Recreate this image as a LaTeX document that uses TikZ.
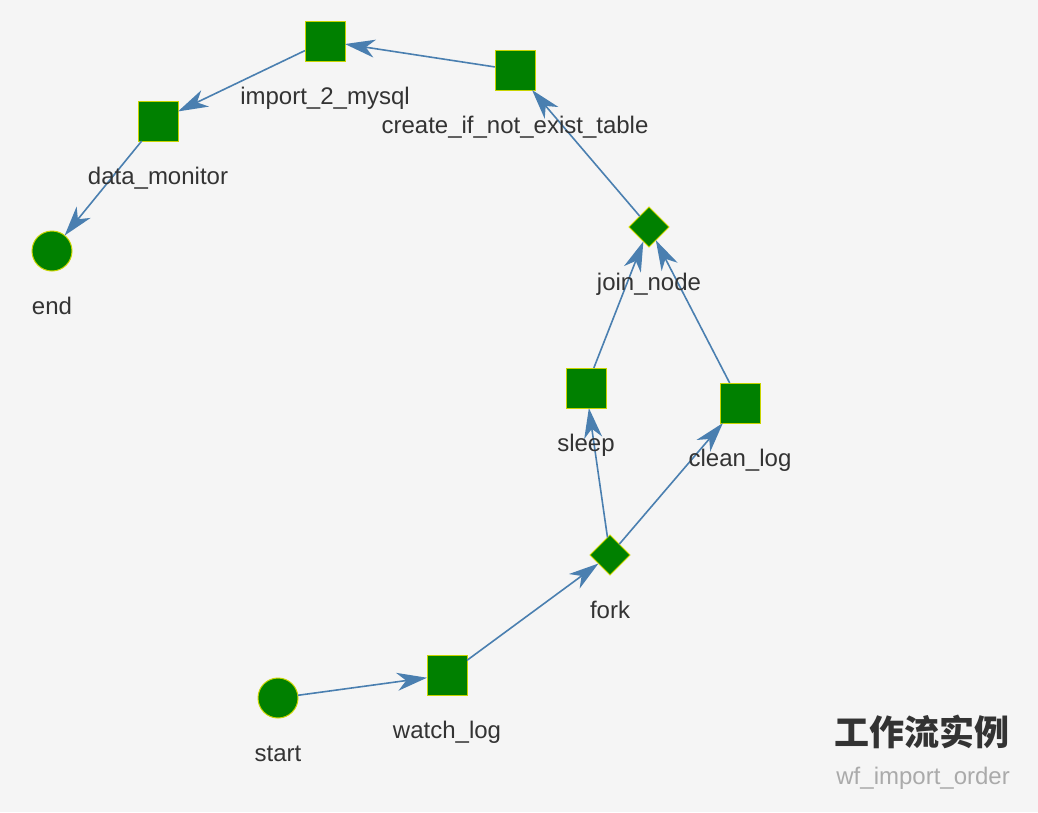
\documentclass[tikz,border=0pt]{standalone}
\usepackage{fontspec}
\setmainfont{Liberation Sans}
\newfontfamily\cjk{Noto Sans CJK SC}
\usetikzlibrary{shapes.geometric,arrows.meta}
\definecolor{bg}{HTML}{F5F5F5}
\definecolor{nodegreen}{HTML}{008000}
\definecolor{nodeborder}{HTML}{C8D400}
\definecolor{edgeblue}{HTML}{4A7FB0}
\definecolor{labeltext}{HTML}{333333}
\definecolor{subtext}{HTML}{AAAAAA}
\tikzset{
  base/.style={fill=nodegreen, draw=nodeborder, line width=1pt, inner sep=0pt, outer sep=0pt},
  sq/.style={base, rectangle, minimum width=40pt, minimum height=40pt},
  circ/.style={base, circle, minimum size=40pt},
  dia/.style={base, diamond, minimum width=40pt, minimum height=40pt},
  lbl/.style={anchor=base, inner sep=0pt, text=labeltext, font=\fontsize{24}{28}\selectfont},
  edge/.style={draw=edgeblue, line width=1.6pt, -{Stealth[length=30pt, width=18pt, inset=9pt]}},
}
\begin{document}
\begin{tikzpicture}[x=1pt, y=-1pt]
\fill[bg] (0,0) rectangle (1038,812);
\useasboundingbox (0,0) rectangle (1038,812);
% nodes
\node[circ] (start) at (278,698) {};
\node[sq] (watch) at (447,675) {};
\node[dia] (fork) at (610,555) {};
\node[sq] (sleep) at (586,388) {};
\node[sq] (clean) at (740,403) {};
\node[dia] (join) at (649,227) {};
\node[sq] (create) at (515,70) {};
\node[sq] (import) at (325,41) {};
\node[sq] (monitor) at (158,121) {};
\node[circ] (end) at (52,251) {};
% edges
\draw[edge] (start) -- (watch);
\draw[edge] (watch) -- (fork);
\draw[edge] (fork) -- (sleep);
\draw[edge] (fork) -- (clean);
\draw[edge] (sleep) -- (join);
\draw[edge] (clean) -- (join);
\draw[edge] (join) -- (create);
\draw[edge] (create) -- (import);
\draw[edge] (import) -- (monitor);
\draw[edge] (monitor) -- (end);
% labels
\node[lbl] (start-l) at (278,761) {start};
\node[lbl] (watch-l) at (447,738) {watch\_log};
\node[lbl] (fork-l) at (610,618) {fork};
\node[lbl] (sleep-l) at (586,451) {sleep};
\node[lbl] (clean-l) at (740,466) {clean\_log};
\node[lbl] (join-l) at (649,290) {join\_node};
\node[lbl] (create-l) at (515,133) {create\_if\_not\_exist\_table};
\node[lbl] (import-l) at (325,104) {import\_2\_mysql};
\node[lbl] (monitor-l) at (158,184) {data\_monitor};
\node[lbl] (end-l) at (52,314) {end};
% title
\node[anchor=base east, inner sep=0pt, text=labeltext, font=\cjk\bfseries\fontsize{35}{40}\selectfont] (title) at (1010,745) {工作流实例};
\node[anchor=base east, inner sep=0pt, text=subtext, font=\fontsize{24}{28}\selectfont] (subtitle) at (1010,784) {wf\_import\_order};
\end{tikzpicture}
\end{document}
